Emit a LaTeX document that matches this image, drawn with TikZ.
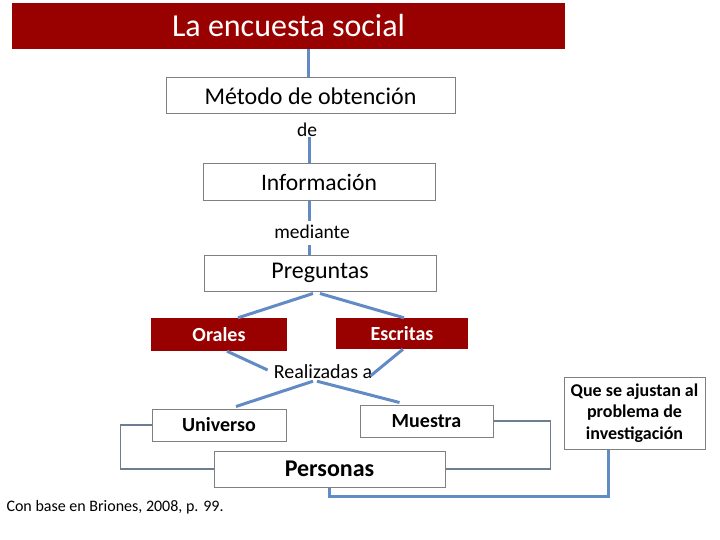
\documentclass[tikz,border=0pt]{standalone}
\usepackage{fontspec}
\setmainfont{Carlito}
\usetikzlibrary{positioning,calc}

\definecolor{encred}{RGB}{153,0,0}
\definecolor{encblue}{RGB}{98,138,196}
\definecolor{encgray}{RGB}{128,128,128}
\definecolor{encline}{RGB}{110,125,145}

\newcommand{\fs}[1]{\fontsize{#1}{1.2*#1}\selectfont}

\tikzset{
  redbox/.style={fill=encred, text=white, inner sep=0pt},
  whitebox/.style={draw=encgray, fill=white, line width=1pt, inner sep=0pt},
  midtext/.style={inner sep=0pt},
  link/.style={encblue, line width=3pt},
  elbow/.style={encline, line width=1.2pt},
}

\begin{document}
\begin{tikzpicture}[x=1pt,y=-1pt]
        \useasboundingbox (0,0) rectangle (720,540);

        % Title
        \node[redbox, minimum width=553, minimum height=46, font=\fontsize{32}{38}\selectfont] (titulo) at (288.5,26)
            {La encuesta social};

        % Chain
        \node[whitebox, minimum width=289, minimum height=36, font=\fontsize{24}{28}\selectfont] (metodo) at (310.5,96)
            {Método de obtención};
        \node[midtext, font=\fontsize{19.5}{23}\selectfont] (de) at (307,130) {de};
        \node[whitebox, minimum width=232, minimum height=37, font=\fontsize{23.6}{28}\selectfont] (info) at (319,182.5)
            {Información};
        \node[midtext, font=\fontsize{19.5}{23}\selectfont] (mediante) at (312,232) {mediante};
        \node[whitebox, minimum width=232, minimum height=36, font=\fontsize{24}{28}\selectfont] (preg) at (320,273)
            {Preguntas};

        \draw[link] (titulo.south -| 308,0) -- (metodo.north -| 308,0);
        \draw[link] (de.south -| 309,0) -- (info.north -| 309,0);
        \draw[link] (info.south -| 309,0) -- ($(mediante.north -| 309,0)+(0,-4)$);
        \draw[link] ($(mediante.south -| 309,0)+(0,6)$) -- (preg.north -| 309,0);

        % Oral / written
        \node[redbox, minimum width=136, minimum height=33, font=\fontsize{20}{24}\selectfont\bfseries] (orales) at (219,334.5)
            {Orales};
        \node[redbox, minimum width=132, minimum height=31, font=\fontsize{20}{24}\selectfont\bfseries] (escritas) at (402,333.5)
            {Escritas};
        \node[midtext, font=\fontsize{20}{24}\selectfont] (realiz) at (323,372) {Realizadas a};

        \draw[link] ($(preg.south)+(-7,2)$) -- ($(orales.north)+(19,0)$);
        \draw[link] ($(preg.south)+(0,2)$) -- ($(escritas.north)+(2,0)$);
        \draw[link] ($(orales.south)+(8,0)$) -- ($(realiz.west)+(-6,-2)$);
        \draw[link] ($(escritas.south)+(1,0)$) -- ($(realiz.east)+(-2,4)$);

        % Universe / sample
        \node[whitebox, minimum width=134, minimum height=32, font=\fontsize{20}{24}\selectfont\bfseries] (universo) at (219,425)
            {Universo};
        \node[whitebox, minimum width=133, minimum height=32, font=\fontsize{20}{24}\selectfont\bfseries] (muestra) at (426.5,421)
            {Muestra};
        \node[whitebox, minimum width=231, minimum height=36, font=\fontsize{24}{28}\selectfont\bfseries] (personas) at (329.5,469)
            {Personas};

        \draw[link] ($(realiz.south)+(-10,2)$) -- ($(universo.north)+(17,-2)$);
        \draw[link] ($(realiz.south)+(-6,2)$) -- ($(muestra.north)+(-27,-2)$);

        % Side brackets
        \draw[elbow] (universo.west) -- ++(-31,0) |- (personas.west);
        \draw[elbow] (muestra.east) -- ++(57,0) |- (personas.east);

        % Note box
        \node[whitebox, minimum width=141, minimum height=72, align=center, font=\fontsize{18}{21.5}\selectfont\bfseries] (nota) at (634.5,413)
            {Que se ajustan al\\problema de\\investigación};
        \draw[encblue, line width=2.2pt] (personas.south) -- ++(0,9) -| ($(nota.south)+(-26,0)$);

        % Source
        \node[anchor=west, font=\fontsize{16}{19}\selectfont] (fuente) at (3,507) {Con base en Briones, 2008, p. 99.};
    \end{tikzpicture}
\end{document}
